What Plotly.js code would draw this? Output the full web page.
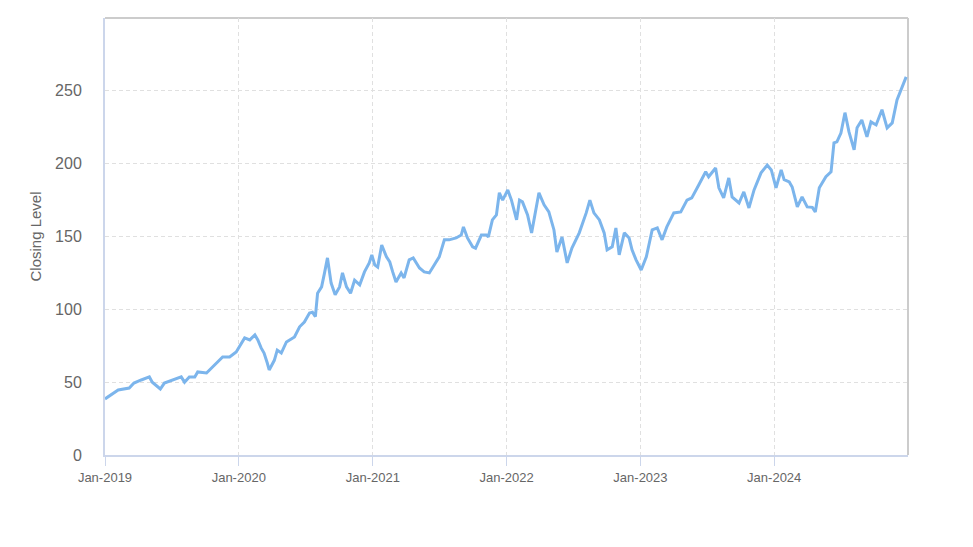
<!DOCTYPE html>
<html>
<head>
<meta charset="utf-8">
<script src="https://cdn.plot.ly/plotly-3.0.1.min.js"></script>
<style>html,body{margin:0;padding:0;background:#fff;}#chart{width:973px;height:547px;}</style>
</head>
<body>
<div id="chart"></div>
<script>
const dates = [
"2019-01-01","2019-01-14","2019-02-06","2019-03-08","2019-03-21","2019-04-10","2019-05-02","2019-05-10","2019-06-01","2019-06-12",
"2019-07-04","2019-07-28","2019-08-06","2019-08-19","2019-09-03","2019-09-11","2019-10-05","2019-10-26","2019-11-18","2019-12-07","2019-12-25",
"2020-01-17","2020-01-31","2020-02-14","2020-02-22","2020-03-02","2020-03-10","2020-03-19","2020-03-24","2020-04-07","2020-04-15","2020-04-26",
"2020-05-10","2020-06-01","2020-06-15","2020-06-28","2020-07-12","2020-07-20","2020-07-28","2020-08-03","2020-08-14","2020-08-22","2020-08-30",
"2020-09-09","2020-09-20","2020-10-02","2020-10-10","2020-10-21","2020-11-01","2020-11-12","2020-11-26","2020-12-09","2020-12-22","2020-12-29",
"2021-01-06","2021-01-14","2021-01-25","2021-02-07","2021-02-16","2021-02-24","2021-03-05","2021-03-19","2021-03-27","2021-04-10","2021-04-21",
"2021-05-08","2021-05-21","2021-06-04","2021-06-12","2021-07-01","2021-07-15","2021-07-28","2021-08-16","2021-08-30","2021-09-05","2021-09-16",
"2021-09-30","2021-10-08","2021-10-24","2021-11-07","2021-11-12","2021-11-23","2021-12-04","2021-12-12","2021-12-21",
"2022-01-04","2022-01-14","2022-01-28","2022-02-05","2022-02-13","2022-02-27","2022-03-10","2022-03-30","2022-04-13","2022-04-26","2022-05-10",
"2022-05-18","2022-06-01","2022-06-15","2022-06-28","2022-07-18","2022-08-06","2022-08-16","2022-08-27","2022-09-11","2022-09-24","2022-10-02",
"2022-10-16","2022-10-26","2022-11-04","2022-11-18","2022-12-01","2022-12-09","2022-12-20",
"2023-01-03","2023-01-17","2023-02-02","2023-02-16","2023-03-01","2023-03-14","2023-04-02","2023-04-21","2023-05-08","2023-05-21","2023-06-09",
"2023-06-28","2023-07-06","2023-07-25","2023-08-03","2023-08-16","2023-08-30","2023-09-08","2023-09-27","2023-10-10","2023-10-24","2023-11-07",
"2023-11-26","2023-12-13","2023-12-24",
"2024-01-06","2024-01-20","2024-01-28","2024-02-11","2024-02-19","2024-03-04","2024-03-17","2024-03-31","2024-04-14","2024-04-22","2024-05-03",
"2024-05-21","2024-06-04","2024-06-12","2024-06-20","2024-07-01","2024-07-12","2024-07-23","2024-08-06","2024-08-14","2024-08-27","2024-09-10",
"2024-09-21","2024-10-05","2024-10-21","2024-11-04","2024-11-18","2024-12-01","2024-12-15","2024-12-26"
];
const closing = [
38.5,40.5,44.6,46,49.4,51.5,53.6,50,45.3,49.4,
51.5,53.6,50,53.6,53.5,57,56.3,61.8,67.3,67.3,70.7,
80.4,79,82.4,79,73.5,70,63,58.4,65,72,70,
77.6,81,88,91.3,97.5,98,95,111,115.4,125,135.3,
118,110,115.4,125,115.4,111,120,116.8,125.7,131.9,137.4,
130.5,129,144.2,136,132.5,125.7,118.8,125,121.6,134,135.3,
128.4,125.7,125,128.4,136,147.7,147.7,149,151,156.6,149,
142.9,142,151,151,149.7,161.4,164.8,180,175,
182,175,161.4,175,173.8,164.8,152.5,180,171.7,166.9,154.5,
139.4,149.7,131.9,142,152.5,166.2,175,166.2,161.4,152.5,140.8,
142.9,155.9,137.4,152.5,149,140.8,134,
127,136,154.5,155.9,147.7,156.6,166.2,166.9,175,176.5,185.4,
194.4,191,197,183.4,176.5,190.2,177.2,173,180.6,169.6,182,
193.7,199,195.7,
183.4,195.7,189,187.5,184,170.3,177.2,170.3,170,166.9,183.4,
191,194.4,214.3,215,221,235,221.8,209.5,224.6,230,218.4,
228.7,226.6,237,224.6,228,243.8,252,259.6
];
const yTicks = [0,50,100,150,200,250];
const xRange = ["2019-01-01","2024-12-31"];
const yRange = [0,300];

const trace = {
  x: dates, y: closing, type: "scatter", mode: "lines",
  line: {color: "#7cb5ec", width: 3},
  hoverinfo: "x+y", showlegend: false
};

const layout = {
  width: 973, height: 547,
  margin: {l: 105, r: 65, t: 18, b: 92},
  paper_bgcolor: "#ffffff", plot_bgcolor: "#ffffff",
  font: {family: "Liberation Sans, Arial, sans-serif", color: "#666666"},
  xaxis: {
    type: "date", range: xRange,
    tick0: "2019-01-01", dtick: "M12", tickformat: "%b-%Y",
    showgrid: true, gridcolor: "#e0e0e0", griddash: "4px,3px", gridwidth: 1,
    showline: true, linecolor: "#ccd6eb", linewidth: 2,
    ticks: "outside", ticklen: 9, tickcolor: "#ccd6eb", tickwidth: 1,
    tickfont: {size: 13, color: "#666666"},
    zeroline: false, fixedrange: true
  },
  yaxis: {
    range: yRange, tickvals: yTicks,
    showgrid: true, gridcolor: "#e0e0e0", griddash: "4px,3px", gridwidth: 1,
    showline: true, linecolor: "#ccd6eb", linewidth: 2,
    ticks: "", ticklabelstandoff: 18,
    tickfont: {size: 16, color: "#666666"},
    zeroline: false, fixedrange: true,
    title: {text: "Closing Level", font: {size: 15, color: "#666666"}, standoff: 10}
  },
  shapes: [
    {type: "line", xref: "paper", yref: "paper", x0: 0, x1: 1, y0: 1, y1: 1, line: {color: "#cccccc", width: 2}, layer: "below"},
    {type: "line", xref: "paper", yref: "paper", x0: 1, x1: 1, y0: 0, y1: 1, line: {color: "#cccccc", width: 2}, layer: "below"}
  ]
};

Plotly.newPlot("chart", [trace], layout, {displayModeBar: false, staticPlot: true});
</script>
</body>
</html>
